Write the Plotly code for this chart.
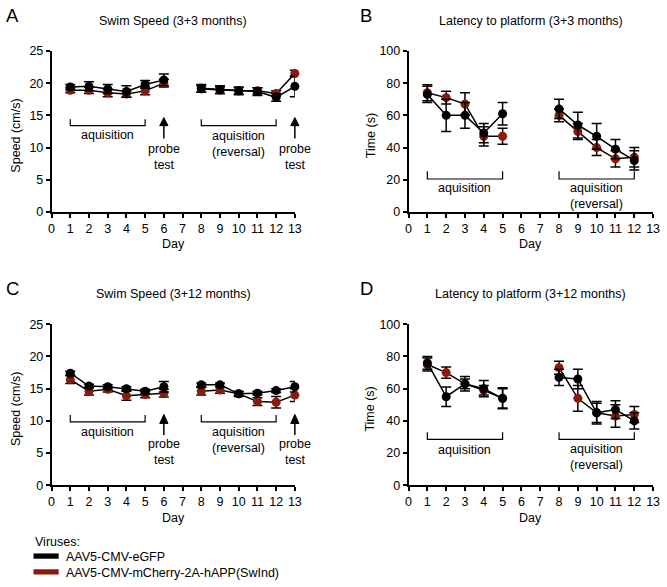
import plotly.graph_objects as go

# ---------------- data ----------------
speed_days = [1, 2, 3, 4, 5, 6, 8, 9, 10, 11, 12, 13]
lat_days = [1, 2, 3, 4, 5, 8, 9, 10, 11, 12]

A_gfp = [19.4, 19.5, 19.1, 18.7, 19.8, 20.5, 19.2, 19.0, 18.8, 18.7, 17.8, 19.5]
A_gfp_err = [0.4, 0.7, 0.7, 0.9, 0.6, 0.9, 0.6, 0.6, 0.6, 0.6, 0.6, 1.6]
A_app = [18.9, 18.9, 18.5, 18.3, 18.8, 20.0, 19.1, 18.9, 18.8, 18.8, 18.4, 21.5]
A_app_err = [0.4, 0.5, 0.6, 0.5, 0.6, 0.6, 0.5, 0.5, 0.5, 0.5, 0.4, 0.5]

B_gfp = [73, 60, 60, 49, 61, 64, 54, 47, 39, 32]
B_gfp_err = [5, 10, 8, 6, 7, 6, 8, 8, 6, 6]
B_app = [74, 71, 67, 47, 47, 60, 50, 40, 33, 34]
B_app_err = [5, 4, 7, 6, 5, 4, 5, 5, 5, 6]

C_gfp = [17.4, 15.4, 15.3, 15.0, 14.6, 15.3, 15.6, 15.6, 14.2, 14.3, 14.7, 15.3]
C_gfp_err = [0.3, 0.3, 0.3, 0.3, 0.3, 0.8, 0.3, 0.3, 0.3, 0.3, 0.3, 0.8]
C_app = [16.4, 14.6, 14.9, 13.9, 14.1, 14.3, 14.6, 14.8, 14.2, 13.0, 12.9, 14.0]
C_app_err = [0.6, 0.6, 0.4, 0.7, 0.5, 0.6, 0.6, 0.5, 0.4, 0.6, 0.9, 1.0]

D_gfp = [76, 55, 63, 60, 54, 67, 66, 45, 47, 40]
D_gfp_err = [4, 6, 4.5, 5, 6.5, 5, 6, 6, 5.5, 5]
D_app = [75, 70, 63, 59, 54, 73, 54, 45, 43, 44]
D_app_err = [4, 3.5, 3, 3, 6, 4, 8, 7, 7, 5]

titles = ["Swim Speed (3+3 months)", "Latency to platform (3+3 months)",
          "Swim Speed (3+12 months)", "Latency to platform (3+12 months)"]
letters = ["A", "B", "C", "D"]
series_names = ["AAV5-CMV-eGFP", "AAV5-CMV-mCherry-2A-hAPP(SwInd)"]

BLACK = "#000000"
RED = "#8B1A0A"
FONT = "Liberation Sans, Arial, sans-serif"
FS = 12.5
W, H = 667, 587


def gap(xs, ys, es):
    ox, oy, oe = [], [], []
    for i, (x, y, e) in enumerate(zip(xs, ys, es)):
        if i > 0 and x - xs[i - 1] > 1:
            ox.append(None); oy.append(None); oe.append(None)
        ox.append(x); oy.append(y); oe.append(e)
    return ox, oy, oe


def px_x(p):
    return p / W


def px_y(p):
    return 1 - p / H


fig = go.Figure()

panels = [
    ("x", "y", speed_days, A_gfp, A_gfp_err, A_app, A_app_err),
    ("x2", "y2", lat_days, B_gfp, B_gfp_err, B_app, B_app_err),
    ("x3", "y3", speed_days, C_gfp, C_gfp_err, C_app, C_app_err),
    ("x4", "y4", lat_days, D_gfp, D_gfp_err, D_app, D_app_err),
]

for xa, ya, days, g, ge, a, ae in panels:
    for vals, errs, col, name in [(a, ae, RED, series_names[1]), (g, ge, BLACK, series_names[0])]:
        xs, ys, es = gap(days, vals, errs)
        fig.add_trace(go.Scatter(
            x=xs, y=ys, xaxis=xa, yaxis=ya, mode="lines+markers", name=name,
            showlegend=False, connectgaps=False, cliponaxis=False,
            line=dict(color=BLACK, width=1.5),
            marker=dict(color=col, size=9, line=dict(width=0)),
            error_y=dict(type="data", array=es, color=BLACK, thickness=1.5, width=5),
        ))

xdom_left = [px_x(49.3), px_x(296.3)]
xdom_right = [px_x(411.7), px_x(660)]
ydom_top = [px_y(210), px_y(45)]
ydom_bot = [px_y(490), px_y(325)]

axis_common = dict(showline=True, linecolor=BLACK, linewidth=1.5, ticks="outside",
                   ticklen=4, tickwidth=1.5, tickcolor=BLACK, showgrid=False,
                   zeroline=False, tickfont=dict(family=FONT, size=FS, color=BLACK))

layout = dict(width=W, height=H, margin=dict(l=0, r=0, t=0, b=0),
              plot_bgcolor="white", paper_bgcolor="white",
              font=dict(family=FONT, size=FS, color=BLACK), showlegend=False)

specs = [("xaxis", "yaxis", "y", "x", xdom_left, ydom_top, 25, 5),
         ("xaxis2", "yaxis2", "y2", "x2", xdom_right, ydom_top, 100, 20),
         ("xaxis3", "yaxis3", "y3", "x3", xdom_left, ydom_bot, 25, 5),
         ("xaxis4", "yaxis4", "y4", "x4", xdom_right, ydom_bot, 100, 20)]
for xk, yk, yanch, xanch, xd, yd, ymax, ydt in specs:
    layout[xk] = dict(axis_common, domain=xd, range=[0, 13], dtick=1, tick0=0, anchor=yanch)
    layout[yk] = dict(axis_common, domain=yd, range=[0, ymax], dtick=ydt, tick0=0, anchor=xanch)

fig.update_layout(**layout)


def to_paper(xv, yv, xd, yd, ymax):
    return (xd[0] + (xv / 13.0) * (xd[1] - xd[0]),
            yd[0] + (yv / ymax) * (yd[1] - yd[0]))


ann = []
shapes = []

title_pos = [(172.8, 14), (536, 14), (172.8, 294), (536, 294)]
letter_pos = [(1, 8.5), (360.5, 8.5), (1, 288.5), (360.5, 288.5)]
ytitles = ["Speed (cm/s)", "Time (s)", "Speed (cm/s)", "Time (s)"]
ytitle_x = [13, 373, 13, 373]
ytitle_y = [132, 132, 412, 412]
day_pos = [(172.8, 243), (536, 243), (172.8, 523), (536, 523)]
for i in range(4):
    ann.append(dict(text=titles[i], x=px_x(title_pos[i][0]), y=px_y(title_pos[i][1]),
                    xref="paper", yref="paper", showarrow=False, xanchor="center",
                    yanchor="middle", font=dict(size=FS)))
    ann.append(dict(text=letters[i], x=px_x(letter_pos[i][0]), y=px_y(letter_pos[i][1]),
                    xref="paper", yref="paper", showarrow=False, xanchor="left",
                    yanchor="middle", font=dict(size=18.5)))
    ann.append(dict(text=ytitles[i], x=px_x(ytitle_x[i]), y=px_y(ytitle_y[i]),
                    xref="paper", yref="paper", showarrow=False, textangle=-90,
                    xanchor="center", yanchor="middle", font=dict(size=FS)))
    ann.append(dict(text="Day", x=px_x(day_pos[i][0]), y=px_y(day_pos[i][1]),
                    xref="paper", yref="paper", showarrow=False, xanchor="center",
                    yanchor="middle", font=dict(size=FS)))

brackets = [
    ("x", "y", xdom_left, ydom_top, 25, 13.4, 14.4, 11.9, 10.6, (8.6, 14.65, 13.4, 11.4, 0.22)),
    ("x2", "y2", xdom_right, ydom_top, 100, 20.5, 25.3, 14.6, 9.8, None),
    ("x3", "y3", xdom_left, ydom_bot, 25, 9.85, 10.9, 8.3, 7.07, (5.18, 11.0, 9.6, 7.8, 0.22)),
    ("x4", "y4", xdom_right, ydom_bot, 100, 28.5, 33.0, 22.1, 17.3, None),
]
for xr, yr, xd, yd, ymax, by, bt, l1, l2, probe in brackets:
    for x0, x1 in [(1, 5), (8, 12)]:
        shapes.append(dict(type="path", xref=xr, yref=yr,
                           path=f"M {x0},{bt} L {x0},{by} L {x1},{by} L {x1},{bt}",
                           line=dict(color=BLACK, width=1.2)))
    ann.append(dict(text="aquisition", x=3, y=l1, xref=xr, yref=yr, showarrow=False,
                    xanchor="center", yanchor="middle", font=dict(size=FS)))
    ann.append(dict(text="aquisition<br>(reversal)", x=10, y=l2, xref=xr, yref=yr,
                    showarrow=False, xanchor="center", yanchor="middle", font=dict(size=FS)))
    if probe:
        ty, tip, base, bottom, hw = probe
        for pxv in (6, 13):
            ann.append(dict(text="probe<br>test", x=pxv, y=ty, xref=xr, yref=yr,
                            showarrow=False, xanchor="center", yanchor="middle",
                            font=dict(size=FS)))
            xb, yb = to_paper(pxv, bottom, xd, yd, ymax)
            _, yba = to_paper(pxv, base, xd, yd, ymax)
            _, yt = to_paper(pxv, tip, xd, yd, ymax)
            xl, _ = to_paper(pxv - hw, base, xd, yd, ymax)
            xrr, _ = to_paper(pxv + hw, base, xd, yd, ymax)
            shapes.append(dict(type="line", xref="paper", yref="paper", x0=xb, x1=xb,
                               y0=yb, y1=yba, line=dict(color=BLACK, width=1.5)))
            shapes.append(dict(type="path", xref="paper", yref="paper",
                               path=f"M {xl},{yba} L {xrr},{yba} L {xb},{yt} Z",
                               fillcolor=BLACK, line=dict(color=BLACK, width=1)))

ann.append(dict(text="Viruses:", x=px_x(30), y=px_y(548), xref="paper", yref="paper",
                showarrow=False, xanchor="left", yanchor="middle", font=dict(size=FS)))
for (yc, tc, col, name) in [(562.5, 563.5, BLACK, series_names[0]),
                            (578.7, 580, RED, series_names[1])]:
    shapes.append(dict(type="rect", xref="paper", yref="paper", x0=px_x(31), x1=px_x(56.5),
                       y0=px_y(yc + 2.7), y1=px_y(yc - 2.7), fillcolor=col, line=dict(width=0)))
    ann.append(dict(text=name, x=px_x(61.5), y=px_y(tc), xref="paper", yref="paper",
                    showarrow=False, xanchor="left", yanchor="middle", font=dict(size=FS)))

fig.update_layout(annotations=ann, shapes=shapes)
fig.write_html("out.html", config={"displayModeBar": False},
               post_script="document.body.style.margin='0';document.body.style.overflow='hidden';document.documentElement.style.overflow='hidden';")
